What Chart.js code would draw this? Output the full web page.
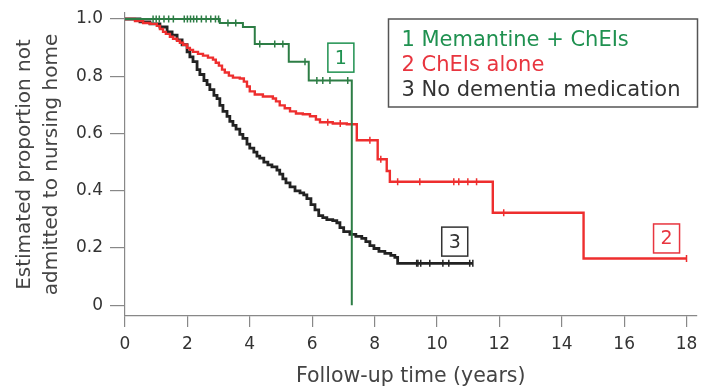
<!DOCTYPE html>
<html>
<head>
<meta charset="utf-8">
<script src="https://cdn.jsdelivr.net/npm/chart.js@4"></script>
<style>
  body { margin: 0; background: #fff; }
  canvas { display: block; }
</style>
</head>
<body>
<canvas id="km" width="702" height="390"></canvas>
<script>
// ================= DATA =================

const xTicks = [0, 2, 4, 6, 8, 10, 12, 14, 16, 18];
const yTicks = [0, 0.2, 0.4, 0.6, 0.8, 1.0];

const groupNames = ["Memantine + ChEIs", "ChEIs alone", "No dementia medication"];

// 1 Memantine + ChEIs
const memTimes = [0, 3.04, 3.78, 4.16, 5.25, 5.89, 7.27];
const memSurv  = [1.0, 0.986, 0.972, 0.913, 0.851, 0.785, 0.0];
const memCensor = [0.9, 1.0, 1.1, 1.25, 1.4, 1.55, 1.9, 2.0, 2.1, 2.2, 2.3, 2.45, 2.6, 2.75, 2.9, 3.0,
                   3.3, 3.55, 4.32, 4.8, 5.06, 5.77, 6.15, 6.34, 6.57, 7.14];

// 2 ChEIs alone
const cheTimes = [0, 0.32, 0.58, 0.80, 1.02, 1.12, 1.22, 1.31, 1.44, 1.54, 1.67, 1.76, 1.86, 1.99, 2.08,
                  2.18, 2.34, 2.50, 2.66, 2.82, 2.91, 3.01, 3.11, 3.20, 3.33, 3.46, 3.68, 3.81, 3.91,
                  4.00, 4.16, 4.42, 4.74, 4.84, 4.96, 5.12, 5.29, 5.48, 5.70, 5.93, 6.12, 6.25, 6.66,
                  7.11, 7.43, 8.10, 8.39, 8.49, 11.79, 14.70, 18.0];
const cheSurv  = [1.0, 0.993, 0.986, 0.983, 0.976, 0.965, 0.955, 0.948, 0.938, 0.931, 0.924, 0.917, 0.910,
                  0.899, 0.892, 0.885, 0.878, 0.872, 0.865, 0.858, 0.847, 0.837, 0.823, 0.813, 0.802,
                  0.795, 0.792, 0.781, 0.764, 0.747, 0.736, 0.729, 0.722, 0.712, 0.698, 0.688, 0.677,
                  0.670, 0.667, 0.660, 0.649, 0.639, 0.635, 0.632, 0.576, 0.510, 0.469, 0.431, 0.323,
                  0.163, 0.163];
const cheCensor = [6.5, 6.9, 7.85, 8.2, 8.74, 9.45, 10.54, 10.70, 10.99, 11.27, 12.14, 18.0];

// 3 No dementia medication
const noneTimes = [0, 0.48, 0.80, 1.12, 1.35, 1.51, 1.67, 1.83, 1.99, 2.08, 2.18, 2.31, 2.40, 2.53, 2.63,
                   2.72, 2.85, 2.95, 3.04, 3.14, 3.27, 3.36, 3.46, 3.56, 3.68, 3.78, 3.91, 4.00, 4.13,
                   4.23, 4.32, 4.45, 4.58, 4.71, 4.87, 4.96, 5.06, 5.16, 5.29, 5.45, 5.61, 5.73, 5.83,
                   5.96, 6.09, 6.21, 6.34, 6.47, 6.66, 6.79, 6.89, 7.01, 7.21, 7.40, 7.59, 7.72, 7.85,
                   7.98, 8.14, 8.33, 8.52, 8.65, 8.74, 11.15];
const noneSurv  = [1.0, 0.990, 0.983, 0.972, 0.955, 0.944, 0.927, 0.910, 0.885, 0.868, 0.851, 0.823, 0.806,
                   0.785, 0.771, 0.753, 0.733, 0.722, 0.698, 0.677, 0.660, 0.642, 0.628, 0.615, 0.597,
                   0.583, 0.563, 0.549, 0.535, 0.521, 0.514, 0.500, 0.490, 0.483, 0.472, 0.458, 0.441,
                   0.427, 0.413, 0.399, 0.392, 0.385, 0.372, 0.351, 0.333, 0.313, 0.306, 0.299, 0.295,
                   0.288, 0.271, 0.257, 0.247, 0.240, 0.233, 0.222, 0.208, 0.198, 0.188, 0.181, 0.174,
                   0.167, 0.146, 0.146];
const noneCensor = [9.35, 9.39, 9.48, 9.77, 10.19, 10.38, 11.05, 11.15];

// ================= HELPERS =================

const GREEN = "#2d7d45";
const GREEN_TXT = "#1f9150";
const RED = "#ee2e2e";
const RED_TXT = "#e8353f";
const BLACK = "#222222";
const FONT = "'DejaVu Sans', Verdana, sans-serif";

function toPoints(times, surv) {
    return times.map((t, i) => ({ x: t, y: surv[i] }));
}

// value of the step curve at time t
function survAt(times, surv, t) {
    let v = surv[0];
    for (let i = 0; i < times.length; i++) {
        if (times[i] <= t) v = surv[i];
    }
    return v;
}

function censorPoints(cens, times, surv) {
    return cens.map(t => ({ x: t, y: survAt(times, surv, t) }));
}

function curve(label, times, surv, color, width) {
    return {
        label: label,
        data: toPoints(times, surv),
        borderColor: color,
        borderWidth: width,
        stepped: true,
        pointRadius: 0,
        fill: false
    };
}

function marks(label, cens, times, surv, color) {
    return {
        label: label,
        data: censorPoints(cens, times, surv),
        showLine: false,
        pointStyle: "line",
        rotation: 90,
        pointRadius: 3.5,
        borderColor: color,
        borderWidth: 1.5
    };
}

// ================= ANNOTATIONS =================

const labelPlugin = {
    id: "kmLabels",
    afterDatasetsDraw(chart) {
        const ctx = chart.ctx;
        const xs = chart.scales.x;
        const ys = chart.scales.y;
        const area = chart.chartArea;

        // numbered boxes next to each curve
        const tags = [
            { n: "1", x: 6.92, y: 0.865, c: GREEN_TXT },
            { n: "2", x: 17.36, y: 0.233, c: RED_TXT },
            { n: "3", x: 10.57, y: 0.222, c: "#333" }
        ];
        ctx.save();
        ctx.font = "19px " + FONT;
        ctx.textAlign = "center";
        ctx.textBaseline = "middle";
        tags.forEach(tg => {
            const px = xs.getPixelForValue(tg.x);
            const py = ys.getPixelForValue(tg.y);
            ctx.strokeStyle = tg.c;
            ctx.lineWidth = 1.5;
            ctx.strokeRect(px - 13, py - 14.5, 26, 29);
            ctx.fillStyle = tg.c;
            ctx.fillText(tg.n, px, py + 1);
        });

        // legend box
        const bx = area.right - 308;
        const by = area.top + 6;
        ctx.strokeStyle = "#555";
        ctx.lineWidth = 1.5;
        ctx.strokeRect(bx, by, 309, 88);
        ctx.font = "21px " + FONT;
        ctx.textAlign = "left";
        const cols = [GREEN_TXT, RED_TXT, "#333"];
        groupNames.forEach((name, i) => {
            const ty = by + 22 + i * 25;
            ctx.fillStyle = cols[i];
            ctx.fillText(String(i + 1), bx + 13, ty);
            ctx.fillText(name, bx + 33, ty);
        });
        ctx.restore();
    }
};

// ================= CHART =================

new Chart(document.getElementById("km"), {
    type: "line",
    data: {
        datasets: [
            curve("1", memTimes, memSurv, GREEN, 2),
            marks("1c", memCensor, memTimes, memSurv, GREEN),
            curve("2", cheTimes, cheSurv, RED, 2.4),
            marks("2c", cheCensor, cheTimes, cheSurv, RED),
            curve("3", noneTimes, noneSurv, BLACK, 2.8),
            marks("3c", noneCensor, noneTimes, noneSurv, BLACK)
        ]
    },
    options: {
        responsive: false,
        animation: false,
        layout: { padding: { top: 13, right: 0, left: 0, bottom: 0 } },
        plugins: {
            legend: { display: false },
            tooltip: { enabled: false }
        },
        scales: {
            x: {
                type: "linear",
                min: 0,
                max: 18.32,
                afterBuildTicks: s => { s.ticks = xTicks.map(v => ({ value: v })); },
                afterFit: s => { s.height = 74; s.paddingLeft = 0; s.paddingRight = 0; },
                grid: { drawOnChartArea: false, drawTicks: true, tickLength: 11, color: "#888", lineWidth: 1.2 },
                border: { display: true, color: "#888", width: 1.2 },
                ticks: {
                    padding: 7,
                    maxRotation: 0,
                    autoSkip: false,
                    color: "#333",
                    font: { family: FONT, size: 17 }
                },
                title: {
                    display: true,
                    text: "Follow-up time (years)",
                    color: "#444",
                    padding: { top: 0, bottom: 1 },
                    font: { family: FONT, size: 20.5 }
                }
            },
            y: {
                type: "linear",
                min: -0.038,
                max: 1.021,
                afterBuildTicks: s => { s.ticks = yTicks.map(v => ({ value: v })); },
                afterFit: s => { s.width = 125; s.paddingTop = 0; s.paddingBottom = 0; },
                grid: { drawOnChartArea: false, drawTicks: true, tickLength: 15, color: "#888", lineWidth: 1.2 },
                border: { display: true, color: "#888", width: 1.2 },
                ticks: {
                    padding: 7,
                    color: "#333",
                    font: { family: FONT, size: 17 },
                    callback: v => (v === 0 ? "0" : v.toFixed(1))
                },
                title: {
                    display: true,
                    text: ["Estimated proportion not", "admitted to nursing home"],
                    color: "#444",
                    padding: { top: 11, bottom: 0 },
                    font: { family: FONT, size: 20, lineHeight: 1.35 }
                }
            }
        }
    },
    plugins: [labelPlugin]
});
</script>
</body>
</html>
